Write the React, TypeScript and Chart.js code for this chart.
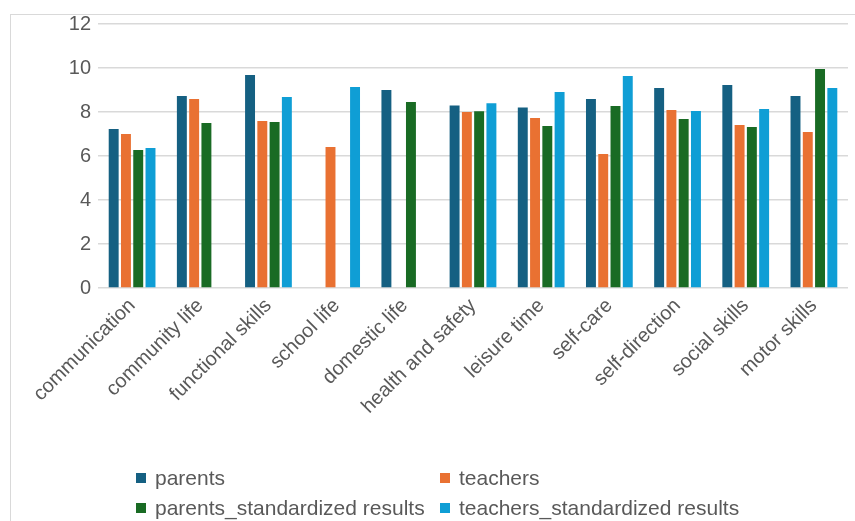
import React, { useEffect, useRef } from "react";
import { Chart, registerables } from "chart.js";

Chart.register(...registerables);

const categories = [
  "communication",
  "community life",
  "functional skills",
  "school life",
  "domestic life",
  "health and safety",
  "leisure time",
  "self-care",
  "self-direction",
  "social skills",
  "motor skills",
];

const parents = [7.23, 8.73, 9.68, null, 9.0, 8.3, 8.2, 8.59, 9.09, 9.23, 8.73];
const teachers = [7.0, 8.59, 7.59, 6.41, null, 8.0, 7.73, 6.09, 8.09, 7.41, 7.09];
const parentsStd = [6.27, 7.5, 7.55, 0, 8.45, 8.03, 7.36, 8.27, 7.68, 7.32, 9.95];
const teachersStd = [6.36, 0, 8.68, 9.14, null, 8.4, 8.91, 9.64, 8.05, 8.14, 9.09];

const seriesNames = [
  "parents",
  "teachers",
  "parents_standardized results",
  "teachers_standardized results",
];
const seriesColors = ["#156082", "#E97132", "#196B24", "#0F9ED5"];
const seriesValues = [parents, teachers, parentsStd, teachersStd];

const yTicks = [0, 2, 4, 6, 8, 10, 12];

const FONT = "'Liberation Sans', Arial, sans-serif";
const TEXT = "#595959";
const GRID = "#d9d9d9";

// legend grid positions (2 columns x 2 rows)
const legendCols = [136, 440];
const legendRows = [478, 508];

export default function App() {
  const ref = useRef<HTMLCanvasElement | null>(null);

  useEffect(() => {
    if (!ref.current) return;
    const chart = new Chart(ref.current, {
      type: "bar",
      data: {
        labels: categories,
        datasets: seriesValues.map((vals, i) => ({
          label: seriesNames[i],
          data: vals as (number | null)[],
          backgroundColor: seriesColors[i],
          borderWidth: 0,
          categoryPercentage: 0.72,
          barPercentage: 0.81,
        })),
      },
      options: {
        responsive: false,
        animation: false,
        devicePixelRatio: 1,
        layout: { padding: { left: 0, top: 24, right: 7, bottom: 73 } },
        plugins: {
          legend: { display: false },
          tooltip: { enabled: false },
        },
        scales: {
          x: {
            grid: { display: false, drawTicks: false },
            border: { display: false },
            ticks: {
              color: TEXT,
              font: { family: FONT, size: 20 },
              minRotation: 45,
              maxRotation: 45,
              padding: 6,
              autoSkip: false,
            },
            afterFit: (axis: any) => {
              axis.height = 160;
            },
          },
          y: {
            min: 0,
            max: 12,
            afterBuildTicks: (axis: any) => {
              axis.ticks = yTicks.map((v) => ({ value: v }));
            },
            grid: { color: GRID, lineWidth: 1.5, drawTicks: false },
            border: { display: false },
            ticks: {
              color: TEXT,
              font: { family: FONT, size: 20 },
              padding: 7,
            },
            afterFit: (axis: any) => {
              axis.width = 98;
            },
          },
        },
      },
    });
    return () => chart.destroy();
  }, []);

  return (
    <div
      style={{
        position: "absolute",
        left: 0,
        top: 0,
        width: 855,
        height: 521,
        overflow: "hidden",
        background: "#fff",
        fontFamily: FONT,
      }}
    >
      <div
        style={{
          position: "absolute",
          left: 10,
          top: 14,
          width: 900,
          height: 600,
          border: `1.5px solid ${GRID}`,
          boxSizing: "border-box",
        }}
      />
      <canvas
        ref={ref}
        width={855}
        height={521}
        style={{ position: "absolute", left: 0, top: 0, width: 855, height: 521 }}
      />
      {seriesNames.map((name, i) => (
        <div
          key={name}
          style={{
            position: "absolute",
            left: legendCols[i % 2],
            top: legendRows[Math.floor(i / 2)] - 14,
            height: 28,
            display: "flex",
            alignItems: "center",
            whiteSpace: "nowrap",
            color: TEXT,
            fontSize: 21,
            fontFamily: FONT,
          }}
        >
          <span
            style={{
              display: "inline-block",
              width: 10,
              height: 10,
              background: seriesColors[i],
              marginRight: 9,
            }}
          />
          <span>{name}</span>
        </div>
      ))}
    </div>
  );
}
